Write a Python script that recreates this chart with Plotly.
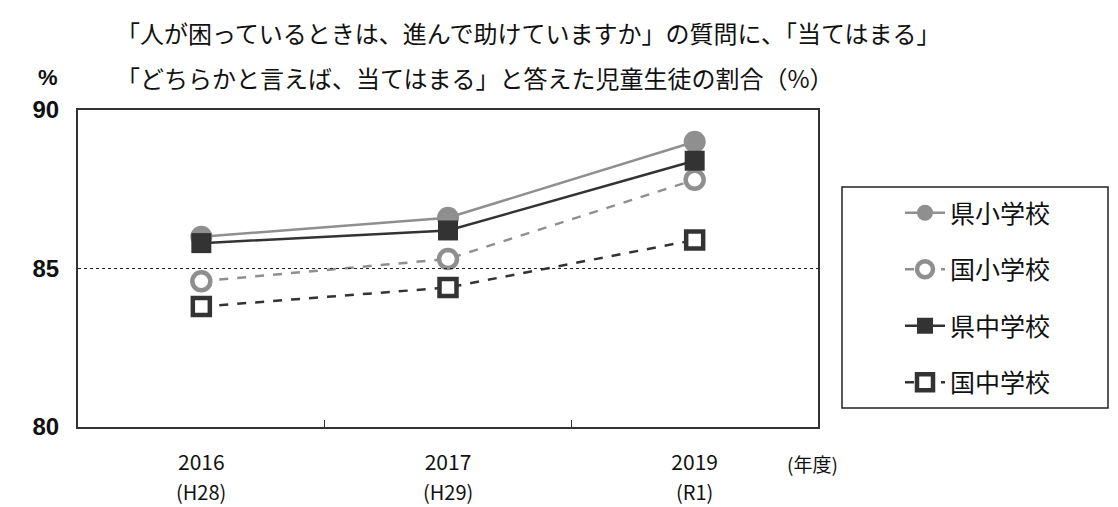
import plotly.graph_objects as go

years = ["2016", "2017", "2019"]
eras = ["(H28)", "(H29)", "(R1)"]
series_names = ["県小学校", "国小学校", "県中学校", "国中学校"]
ken_sho = [86.0, 86.6, 89.0]
koku_sho = [84.6, 85.3, 87.8]
ken_chu = [85.8, 86.2, 88.4]
koku_chu = [83.8, 84.4, 85.9]

title1 = "「人が困っているときは、進んで助けていますか」の質問に、「当てはまる」"
title2 = "「どちらかと言えば、当てはまる」と答えた児童生徒の割合（%）"

JP = "Noto Sans CJK JP"
GRAY = "#8f8f8f"
DARK = "#333333"

fig = go.Figure()
styles = [
    (ken_sho, dict(color=GRAY, width=2.5, dash="solid"), dict(symbol="circle", size=22, color=GRAY)),
    (koku_sho, dict(color=GRAY, width=2.5, dash="dash"), dict(symbol="circle", size=18, color="white", line=dict(width=4.5, color=GRAY))),
    (ken_chu, dict(color=DARK, width=2.5, dash="solid"), dict(symbol="square", size=20, color=DARK)),
    (koku_chu, dict(color=DARK, width=2.5, dash="dash"), dict(symbol="square", size=17, color="white", line=dict(width=4.5, color=DARK))),
]
for i, (vals, ln, mk) in enumerate(styles):
    fig.add_trace(go.Scatter(
        x=years, y=vals, name=series_names[i], mode="lines+markers",
        line=ln, marker=mk, legendgroup=f"g{i}",
    ))

# reference line at 85
fig.add_shape(type="line", xref="paper", yref="y", x0=0, x1=1, y0=85, y1=85,
              line=dict(color="#222", width=1, dash="dot"))
# legend frame
fig.add_shape(type="rect", xref="paper", yref="paper",
              x0=(842 - 78) / 740, x1=(1108 - 78) / 740,
              y0=(427 - 408) / 317, y1=(427 - 187) / 317,
              line=dict(color="#222", width=1.5), fillcolor="white", layer="below")

annotations = [
    dict(text=title1, x=(114 - 78) / 740, y=1.243, xref="paper", yref="paper", xanchor="left", yanchor="middle",
         showarrow=False, font=dict(family=JP, size=24, color="#111")),
    dict(text=title2, x=(114 - 78) / 740, y=1.101, xref="paper", yref="paper", xanchor="left", yanchor="middle",
         showarrow=False, font=dict(family=JP, size=24, color="#111")),
    dict(text="<b>%</b>", x=-0.0405, y=1.101, xref="paper", yref="paper", xanchor="center", yanchor="middle",
         showarrow=False, font=dict(family="Liberation Sans", size=22, color="#111")),
    dict(text="(年度)", x=(812 - 78) / 740, y=-0.114, xref="paper", yref="paper", xanchor="center", yanchor="middle",
         showarrow=False, font=dict(family=JP, size=19, color="#111")),
]
for idx, er in enumerate(eras):
    annotations.append(dict(text=er, x=idx, y=(427 - 491) / 317, xref="x", yref="paper", xanchor="center", yanchor="middle",
                            showarrow=False, font=dict(family=JP, size=20, color="#111")))

fig.update_layout(
    width=1118, height=507,
    margin=dict(l=78, r=300, t=110, b=80),
    paper_bgcolor="white", plot_bgcolor="white",
    showlegend=True,
    legend=dict(x=(900 - 78) / 740, y=(427 - 190) / 317, xanchor="left", yanchor="top",
                bgcolor="rgba(0,0,0,0)", borderwidth=0, tracegroupgap=21,
                font=dict(family=JP, size=25, color="#111"), itemwidth=40),
    annotations=annotations,
    xaxis=dict(type="category", showgrid=False, showline=True, linecolor="#333", linewidth=2, mirror=True,
               ticks="inside", tickson="boundaries", ticklen=7, tickcolor="#333",
               ticklabelstandoff=16,
               tickfont=dict(family=JP, size=21, color="#111"), range=[-0.5, 2.5]),
    yaxis=dict(range=[80, 90], tickvals=[80, 85, 90], ticktext=["<b>80</b>", "<b>85</b>", "<b>90</b>"],
               showgrid=False, zeroline=False, showline=True, linecolor="#333", linewidth=2, mirror=True,
               ticks="", ticklabelstandoff=12,
               tickfont=dict(family="Liberation Sans", size=24, color="#111")),
)

fig.write_html("out.html", config={"displayModeBar": False},
               post_script="document.body.style.margin='0';")
